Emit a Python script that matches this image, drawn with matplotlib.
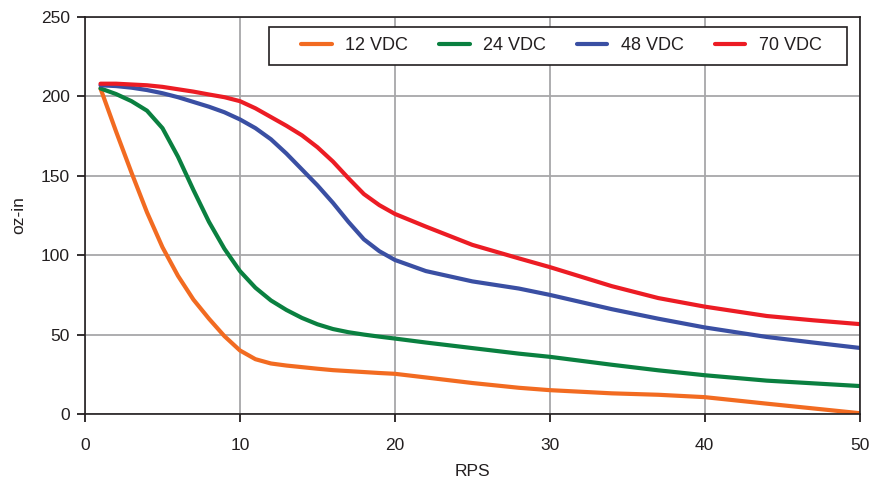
import matplotlib.pyplot as plt
from matplotlib.patches import Rectangle

plt.rcParams['font.family'] = ['Liberation Sans', 'DejaVu Sans']

rps = [1, 2, 3, 4, 5, 6, 7, 8, 9, 10, 11, 12, 13, 14, 15, 16, 17, 18, 19, 20,
       22, 25, 28, 30, 34, 37, 40, 44, 47, 50]

v12 = [205, 178, 152, 127, 105, 87, 72, 60, 49, 40, 34.5, 31.8, 30.5, 29.5, 28.5, 27.6, 27, 26.4, 25.8, 25.3,
       23, 19.5, 16.5, 15, 13, 12.1, 10.6, 6.5, 3.5, 0.5]
v24 = [205, 201.5, 197, 191, 180, 162, 141, 121, 104, 90, 79.5, 71.5, 65.5, 60.5, 56.5, 53.5, 51.5, 50, 48.7, 47.5,
       45, 41.5, 38, 36, 31, 27.5, 24.4, 21, 19.3, 17.6]
v48 = [207, 206.5, 205.5, 204, 202, 199.5, 196.5, 193.5, 190, 185.5, 180, 173, 164, 154, 144, 133, 121, 110, 102.5, 97,
       90, 83.5, 79, 75, 66, 60, 54.5, 48.5, 45, 41.6]
v70 = [208, 208, 207.5, 207, 206, 204.5, 203, 201.2, 199.5, 197, 192.5, 187, 181.5, 175.5, 168, 159, 148.5, 138.5, 131.5, 126,
       118, 106.5, 98, 92.5, 80.5, 73, 67.6, 61.7, 59, 56.6]

labels = ['12 VDC', '24 VDC', '48 VDC', '70 VDC']
colors = ['#F26B21', '#0A8040', '#3A4FA3', '#EC1C24']
ink = '#231f20'

fig = plt.figure(figsize=(8.71, 4.83), dpi=100)
ax = fig.add_axes([0.0976, 0.1429, 0.8894, 0.8219])

for ys, lab, c in zip([v12, v24, v48, v70], labels, colors):
    ax.plot(rps, ys, color=c, lw=3, label=lab, solid_joinstyle='round', solid_capstyle='round')

ax.set_xlim(0, 50)
ax.set_ylim(0, 250)
ax.set_xticks([0, 10, 20, 30, 40, 50])
ax.set_yticks([0, 50, 100, 150, 200, 250])
ax.grid(True, color='#a7a7a9', lw=1.3)
ax.set_axisbelow(True)
for s in ax.spines.values():
    s.set_color(ink)
    s.set_linewidth(1.2)
ax.tick_params(direction='out', length=6, width=1.3, color=ink, labelsize=12.5, labelcolor=ink)
ax.tick_params(axis='x', pad=11)
ax.tick_params(axis='y', pad=5)

ax.set_xlabel('RPS', fontsize=12.5, color=ink, labelpad=8)
ax.set_ylabel('oz-in', fontsize=12.5, color=ink, labelpad=10)

# legend box drawn separately so its side padding can be wider than top/bottom
ax.add_patch(Rectangle((0.2374, 0.879), 0.7458, 0.096, transform=ax.transAxes,
                       facecolor='white', edgecolor=ink, lw=1.2, zorder=4))
leg = ax.legend(loc='center right', bbox_to_anchor=(0.951, 0.927), ncol=4, fontsize=13,
                frameon=False, handlelength=1.7, handletextpad=0.75, columnspacing=1.7,
                borderpad=0, borderaxespad=0)
leg.set_zorder(5)
for t in leg.get_texts():
    t.set_color(ink)

fig.savefig('out.png', dpi=100)
